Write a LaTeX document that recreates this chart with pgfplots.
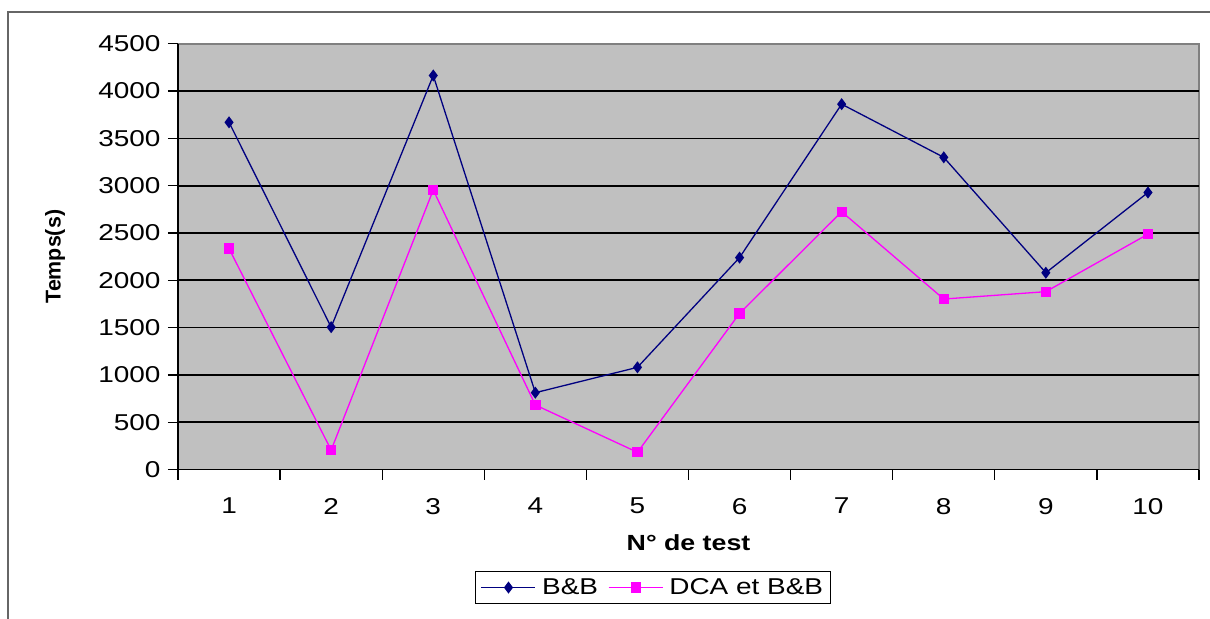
\documentclass[border=0pt]{standalone}
\usepackage{fontspec}
\setmainfont{Liberation Sans}[FakeStretch=1.22]
\newfontfamily\ylabfont{Liberation Sans}
\usepackage{pgfplots}
\pgfplotsset{compat=1.18}
\definecolor{navyc}{RGB}{0,0,128}
\definecolor{magc}{RGB}{255,0,255}
\definecolor{plotbg}{RGB}{192,192,192}
\definecolor{bordergray}{RGB}{128,128,128}
\begin{document}
\begin{tikzpicture}
\useasboundingbox (0,0) rectangle (1210bp,-619bp);
\fill[white] (0,0) rectangle (1210bp,-619bp);
\draw[line width=1.6bp, black!60] (8bp,-640bp) -- (8bp,-12bp) -- (1230bp,-12bp);
\begin{axis}[
  at={(178bp,-469.5bp)}, anchor=south west,
  scale only axis, width=1021bp, height=425.7bp,
  xmin=0.5, xmax=10.5, ymin=0, ymax=4500,
  axis lines=left, axis line style={-, black, line width=1.4bp},
  axis background/.style={fill=plotbg, draw=bordergray, line width=1.4bp},
  xtick={1,...,10}, minor xtick={0.5,1.5,...,10.5},
  ytick={0,500,...,4500},
  tick align=outside,
  major tick length=10bp, minor tick length=10bp,
  tick style={black, line width=1.3bp},
  major x tick style={draw=none},
  minor x tick style={black, line width=1.3bp},
  extra y ticks={500,1000,...,4000}, extra y tick labels={},
  extra y tick style={grid=major, major tick length=0bp},
  major grid style={black, line width=1.7bp},
  /pgf/number format/assume math mode=true,
  /pgf/number format/1000 sep={},
  ticklabel style={font=\fontsize{23}{27}\selectfont},
  xticklabel style={yshift=-15bp},
  yticklabel style={xshift=-4bp},
  xlabel={\textbf{N° de test}},
  xlabel style={at={(axis description cs:0.5,0)}, anchor=center, yshift=-73.5bp, font=\fontsize{22}{26}\selectfont},
  ylabel={\ylabfont\bfseries Temps(s)},
  ylabel style={at={(axis description cs:0,0.5)}, anchor=center, yshift=123bp, font=\fontsize{21.5}{26}\selectfont},
  legend columns=2,
  legend style={at={(axis description cs:0.5,0)}, anchor=center, xshift=-35.5bp, yshift=-118bp,
    draw=black, line width=1.2bp, fill=white, font=\fontsize{23}{27}\selectfont,
    inner xsep=5bp, inner ysep=5bp,
    /tikz/every odd column/.append style={column sep=4bp},
    /tikz/every even column/.append style={column sep=8bp}},
  legend image code/.code={\draw[#1, mark repeat=2, mark phase=2] plot coordinates {(0bp,0bp) (27bp,0bp) (54bp,0bp)};},
]
\addplot[color=navyc, line width=1.3bp, mark=diamond*, mark size=5bp, mark options={fill=navyc, draw=navyc}]
  coordinates {(1,3670) (2,1505) (3,4165) (4,812) (5,1080) (6,2240) (7,3862) (8,3300) (9,2080) (10,2928)};
\addplot[color=magc, line width=1.3bp, mark=square*, mark size=4.5bp, mark options={fill=magc, draw=magc}]
  coordinates {(1,2335) (2,205) (3,2955) (4,682) (5,182) (6,1650) (7,2725) (8,1802) (9,1880) (10,2488)};
\legend{B\&B, DCA et B\&B}
\end{axis}
\end{tikzpicture}
\end{document}
